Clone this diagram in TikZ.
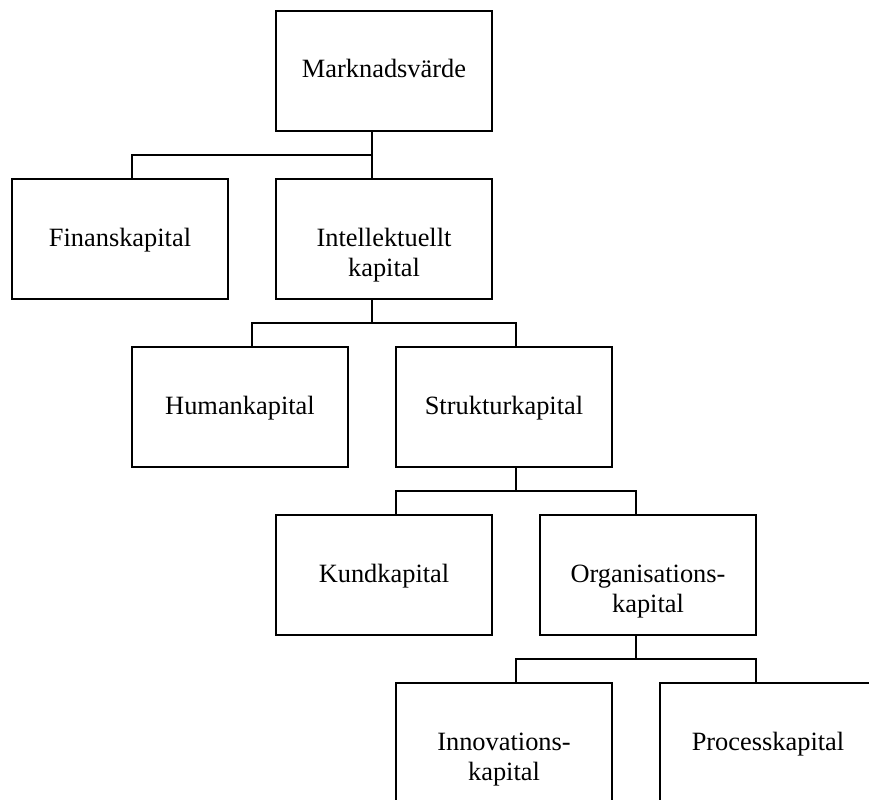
\documentclass[tikz,border=0pt]{standalone}
\usepackage{fontspec}
\setmainfont{Liberation Serif}
\tikzset{
  orgbox/.style={draw, line width=1.5bp, inner sep=0pt, outer sep=0pt},
  conn/.style={line width=1.3bp}
}
\newcommand{\boxtext}[1]{\parbox[c][120bp][t]{216bp}{\centering\fontsize{26.4bp}{30bp}\selectfont\rule{0pt}{67bp}#1}}
\begin{document}
\begin{tikzpicture}[x=1bp,y=-1bp]
\clip (0,0) rectangle (869,800);
\fill[white] (0,0) rectangle (869,800);
\node[orgbox] (M) at (384,71)  {\boxtext{Marknadsvärde}};
\node[orgbox] (F) at (120,239) {\boxtext{Finanskapital}};
\node[orgbox] (I) at (384,239) {\boxtext{Intellektuellt\\kapital}};
\node[orgbox] (H) at (240,407) {\boxtext{Humankapital}};
\node[orgbox] (S) at (504,407) {\boxtext{Strukturkapital}};
\node[orgbox] (K) at (384,575) {\boxtext{Kundkapital}};
\node[orgbox] (O) at (648,575) {\boxtext{Organisations-\\kapital}};
\node[orgbox] (N) at (504,743) {\boxtext{Innovations-\\kapital}};
\node[orgbox] (P) at (768,743) {\boxtext{Processkapital}};
% level 1
\draw[conn] ([xshift=96bp]M.south west) -- ([xshift=96bp]I.north west);
\draw[conn] ([xshift=120bp]F.north west) |- ([xshift=96bp,yshift=24bp]I.north west);
% level 2
\draw[conn] ([xshift=96bp]I.south west) -- ([xshift=96bp,yshift=-24bp]I.south west);
\draw[conn] ([xshift=120bp]H.north west) |- ([xshift=120bp,yshift=24bp]S.north west) -- ([xshift=120bp]S.north west);
% level 3
\draw[conn] ([xshift=120bp]S.south west) -- ([xshift=120bp,yshift=-24bp]S.south west);
\draw[conn] ([xshift=120bp]K.north west) |- ([xshift=96bp,yshift=24bp]O.north west) -- ([xshift=96bp]O.north west);
% level 4
\draw[conn] ([xshift=96bp]O.south west) -- ([xshift=96bp,yshift=-24bp]O.south west);
\draw[conn] ([xshift=120bp]N.north west) |- ([xshift=96bp,yshift=24bp]P.north west) -- ([xshift=96bp]P.north west);
\end{tikzpicture}
\end{document}
